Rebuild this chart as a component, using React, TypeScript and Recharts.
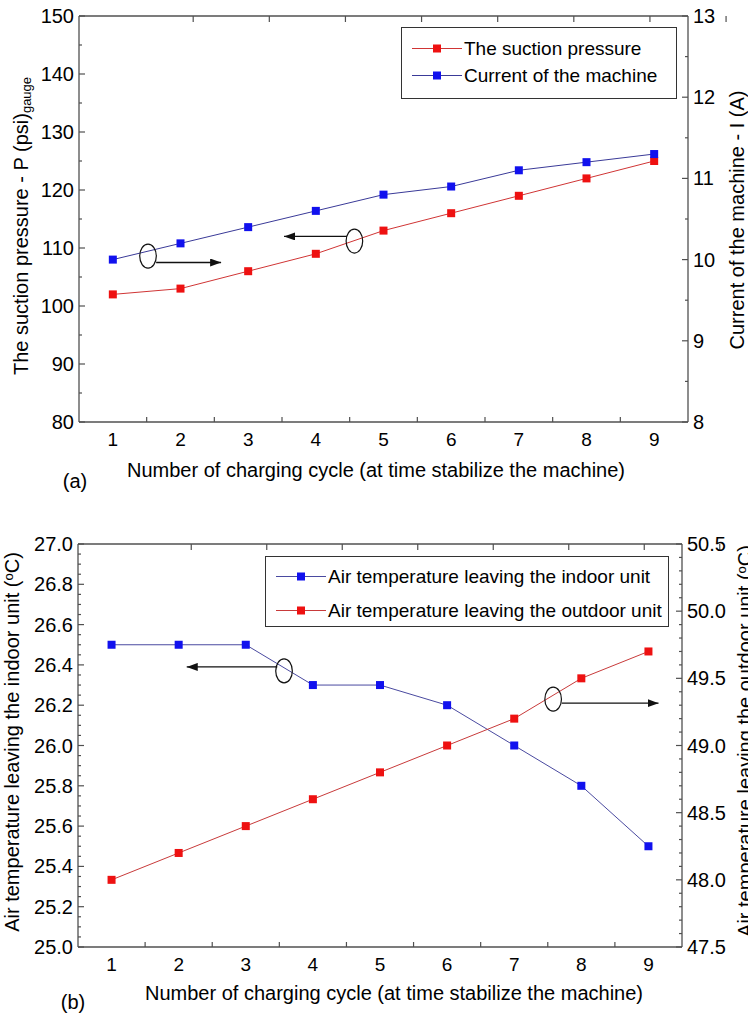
import React from 'react';
import { LineChart, Line, XAxis, YAxis, Legend, ReferenceDot, ReferenceLine } from 'recharts';

// ---------- data ----------
const cycles = [1, 2, 3, 4, 5, 6, 7, 8, 9];
const suctionPressure = [102, 103, 106, 109, 113, 116, 119, 122, 125];
const machineCurrent = [10.0, 10.2, 10.4, 10.6, 10.8, 10.9, 11.1, 11.2, 11.3];
const indoorTemp = [26.5, 26.5, 26.5, 26.3, 26.3, 26.2, 26.0, 25.8, 25.5];
const outdoorTemp = [48.0, 48.2, 48.4, 48.6, 48.8, 49.0, 49.2, 49.5, 49.7];

// ---------- ticks ----------
const xLabelTicks = [1, 2, 3, 4, 5, 6, 7, 8, 9];
const xMinorTicks = [1.5, 2.5, 3.5, 4.5, 5.5, 6.5, 7.5, 8.5];
const pressureTicks = [80, 90, 100, 110, 120, 130, 140, 150];
const currentTicks = [8, 9, 10, 11, 12, 13];
const indoorTicks = [25.0, 25.2, 25.4, 25.6, 25.8, 26.0, 26.2, 26.4, 26.6, 26.8, 27.0];
const outdoorTicks = [47.5, 48.0, 48.5, 49.0, 49.5, 50.0, 50.5];

// annotations (data coordinates)
const ellipsesA = [{ x: 1.52, y: 108.6 }, { x: 4.57, y: 111.2 }];
const arrowsA = [
  { x1: 1.64, y1: 107.5, x2: 2.6, y2: 107.5 },
  { x1: 4.46, y1: 112.0, x2: 3.53, y2: 112.0 },
];
const ellipsesB = [{ x: 3.57, y: 26.37 }, { x: 7.58, y: 26.23 }];
const arrowsB = [
  { x1: 3.47, y1: 26.39, x2: 2.12, y2: 26.39 },
  { x1: 7.71, y1: 26.21, x2: 9.15, y2: 26.21 },
];

const seriesA = [
  { key: 'pressure', name: 'The suction pressure', line: '#d03535', marker: '#ee1111' },
  { key: 'current', name: 'Current of the machine', line: '#3a3a98', marker: '#1111ee' },
];
const seriesB = [
  { key: 'indoor', name: 'Air temperature leaving the indoor unit', line: '#4a4aa0', marker: '#1111ee' },
  { key: 'outdoor', name: 'Air temperature leaving the outdoor unit', line: '#c83a3a', marker: '#ee1111' },
];

const dataA = cycles.map((c, i) => ({ cycle: c, pressure: suctionPressure[i], current: machineCurrent[i] }));
const dataB = cycles.map((c, i) => ({ cycle: c, indoor: indoorTemp[i], outdoor: outdoorTemp[i] }));

const subdivide = (majors: number[], n: number) => {
  const out: number[] = [];
  for (let i = 0; i < majors.length; i++) {
    out.push(majors[i]);
    if (i < majors.length - 1) {
      const step = (majors[i + 1] - majors[i]) / n;
      for (let k = 1; k < n; k++) out.push(+(majors[i] + k * step).toFixed(4));
    }
  }
  return out;
};

const FONT = '"Liberation Sans", Arial, Helvetica, sans-serif';
const AXIS = '#505050';

const isIn = (arr: number[], v: number) => arr.some((m) => Math.abs(m - v) < 1e-6);

const makeLeftTick = (majors: number[], fmt: (v: number) => string) => (props: any) => {
  const { x, y, payload } = props;
  const major = isIn(majors, payload.value);
  return (
    <g>
      <line x1={x} x2={x + (major ? 6 : 3)} y1={y} y2={y} stroke={AXIS} strokeWidth={1.2} />
      {major && (
        <text x={x - 5} y={y} dy="0.35em" textAnchor="end" fontSize={20} fontFamily={FONT} fill="#000">
          {fmt(payload.value)}
        </text>
      )}
    </g>
  );
};

const makeRightTick = (majors: number[], fmt: (v: number) => string) => (props: any) => {
  const { x, y, payload } = props;
  const major = isIn(majors, payload.value);
  return (
    <g>
      <line x1={x} x2={x - (major ? 6 : 3)} y1={y} y2={y} stroke={AXIS} strokeWidth={1.2} />
      {major && (
        <text x={x + 5} y={y} dy="0.35em" textAnchor="start" fontSize={20} fontFamily={FONT} fill="#000">
          {fmt(payload.value)}
        </text>
      )}
    </g>
  );
};

const bottomTick = (props: any) => {
  const { x, y, payload } = props;
  const major = isIn(xLabelTicks, payload.value);
  if (major) {
    return (
      <text x={x} y={y + 17} dy="0.35em" textAnchor="middle" fontSize={19} fontFamily={FONT} fill="#000">
        {payload.value}
      </text>
    );
  }
  return <line x1={x} x2={x} y1={y} y2={y - 5} stroke={AXIS} strokeWidth={1.2} />;
};

const topTick = (props: any) => {
  const { x, y } = props;
  return <line x1={x} x2={x} y1={y} y2={y + 6} stroke={AXIS} strokeWidth={1.2} />;
};

const squareDot = (color: string) => (props: any) => {
  const { cx, cy, index } = props;
  return <rect key={`d${index}`} x={cx - 4} y={cy - 4} width={8} height={8} fill={color} />;
};

const ellipseShape = (props: any) => (
  <ellipse cx={props.cx} cy={props.cy} rx={8.3} ry={12} fill="none" stroke="#111" strokeWidth={1.2} />
);

const arrowShape = (props: any) => (
  <line x1={props.x1} y1={props.y1} x2={props.x2} y2={props.y2} stroke="#111" strokeWidth={1.3} markerEnd="url(#arrowHead)" />
);

const LegendBox = ({ items, rowTops, fontSize }: { items: typeof seriesA; rowTops: number[]; fontSize: number }) => (
  <div
    style={{
      position: 'relative',
      width: '100%',
      height: '100%',
      boxSizing: 'border-box',
      border: '1.5px solid #333',
      background: '#fff',
      fontFamily: FONT,
    }}
  >
    {items.map((s, i) => (
      <div key={s.key} style={{ position: 'absolute', left: 10, top: rowTops[i], transform: 'translateY(-50%)', display: 'flex', alignItems: 'center', whiteSpace: 'nowrap' }}>
        <svg width={50} height={10} style={{ display: 'block' }}>
          <line x1={0} x2={50} y1={5} y2={5} stroke={s.line} strokeWidth={1} />
          <rect x={21} y={1} width={8} height={8} fill={s.marker} />
        </svg>
        <span style={{ fontSize, lineHeight: 1, marginLeft: 2, color: '#000' }}>{s.name}</span>
      </div>
    ))}
  </div>
);

const textStyle: React.CSSProperties = {
  position: 'absolute',
  fontFamily: FONT,
  fontSize: 20,
  lineHeight: 1,
  whiteSpace: 'nowrap',
  color: '#000',
};

const Centered = ({ x, y, rot, children, size }: any) => (
  <div style={{ ...textStyle, fontSize: size ?? 20, left: x, top: y, transform: `translate(-50%, -50%)${rot ? ` rotate(${rot}deg)` : ''}` }}>
    {children}
  </div>
);

const allX = [...xLabelTicks, ...xMinorTicks].sort((a, b) => a - b);

const axisCommon = {
  allowDataOverflow: true,
  interval: 0 as const,
  tickSize: 0,
  tickMargin: 0,
  tickLine: false,
  axisLine: { stroke: AXIS, strokeWidth: 1.3 },
};

export default function App() {
  const pressureAll = subdivide(pressureTicks, 2);
  const currentAll = subdivide(currentTicks, 2);
  const indoorAll = subdivide(indoorTicks, 4);
  const outdoorAll = subdivide(outdoorTicks, 5);

  return (
    <div style={{ position: 'absolute', left: 0, top: 0, width: 748, height: 1014, overflow: 'hidden', background: '#fff' }}>
      <svg width={0} height={0} style={{ position: 'absolute' }}>
        <defs>
          <marker id="arrowHead" markerUnits="userSpaceOnUse" markerWidth={12} markerHeight={8} refX={11} refY={4} orient="auto">
            <path d="M0,0 L11,4 L0,8 z" fill="#111" />
          </marker>
        </defs>
      </svg>

      {/* ---------- chart (a) ---------- */}
      <div style={{ position: 'absolute', left: 0, top: 0 }}>
        <LineChart width={748} height={490} data={dataA} margin={{ top: 15, left: 78, right: 59, bottom: 67 }}>
          <XAxis dataKey="cycle" type="number" domain={[0.5, 9.5]} ticks={allX} height={1} tick={bottomTick} {...axisCommon} />
          <XAxis xAxisId="top" orientation="top" type="number" domain={[0.5, 9.5]} ticks={xMinorTicks} height={1} tick={topTick} {...axisCommon} />
          <YAxis yAxisId="left" type="number" domain={[80, 150]} ticks={pressureAll} width={1} tick={makeLeftTick(pressureTicks, (v) => String(v))} {...axisCommon} />
          <YAxis yAxisId="right" orientation="right" type="number" domain={[8, 13]} ticks={currentAll} width={1} tick={makeRightTick(currentTicks, (v) => String(v))} {...axisCommon} />
          <Line yAxisId="left" dataKey="pressure" name={seriesA[0].name} type="linear" stroke={seriesA[0].line} strokeWidth={1} dot={squareDot(seriesA[0].marker)} activeDot={false} isAnimationActive={false} />
          <Line yAxisId="right" dataKey="current" name={seriesA[1].name} type="linear" stroke={seriesA[1].line} strokeWidth={1} dot={squareDot(seriesA[1].marker)} activeDot={false} isAnimationActive={false} />
          {ellipsesA.map((e, i) => (
            <ReferenceDot key={`ea${i}`} yAxisId="left" x={e.x} y={e.y} r={10} shape={ellipseShape} ifOverflow="visible" />
          ))}
          {arrowsA.map((a, i) => (
            <ReferenceLine key={`aa${i}`} yAxisId="left" segment={[{ x: a.x1, y: a.y1 }, { x: a.x2, y: a.y2 }]} shape={arrowShape} ifOverflow="visible" />
          ))}
          <Legend
            layout="vertical"
            align="center"
            verticalAlign="middle"
            wrapperStyle={{ position: 'absolute', left: 401, top: 27, width: 276, height: 72, margin: 0, padding: 0 }}
            content={() => <LegendBox items={seriesA} rowTops={[20, 47]} fontSize={19} />}
          />
        </LineChart>
      </div>

      <Centered x={22} y={226} rot={-90}>
        The suction pressure - P (psi)<sub style={{ fontSize: 13, verticalAlign: '-0.25em' }}>gauge</sub>
      </Centered>
      <Centered x={737} y={220} rot={-90}>Current of the machine - I (A)</Centered>
      <Centered x={376} y={470}>Number of charging cycle (at time stabilize the machine)</Centered>
      <Centered x={75} y={481}>(a)</Centered>

      {/* ---------- chart (b) ---------- */}
      <div style={{ position: 'absolute', left: 0, top: 500 }}>
        <LineChart width={748} height={514} data={dataB} margin={{ top: 43, left: 77, right: 65, bottom: 66 }}>
          <XAxis dataKey="cycle" type="number" domain={[0.5, 9.5]} ticks={allX} height={1} tick={bottomTick} {...axisCommon} />
          <XAxis xAxisId="top" orientation="top" type="number" domain={[0.5, 9.5]} ticks={xMinorTicks} height={1} tick={topTick} {...axisCommon} />
          <YAxis yAxisId="left" type="number" domain={[25, 27]} ticks={indoorAll} width={1} tick={makeLeftTick(indoorTicks, (v) => v.toFixed(1))} {...axisCommon} />
          <YAxis yAxisId="right" orientation="right" type="number" domain={[47.5, 50.5]} ticks={outdoorAll} width={1} tick={makeRightTick(outdoorTicks, (v) => v.toFixed(1))} {...axisCommon} />
          <Line yAxisId="left" dataKey="indoor" name={seriesB[0].name} type="linear" stroke={seriesB[0].line} strokeWidth={1} dot={squareDot(seriesB[0].marker)} activeDot={false} isAnimationActive={false} />
          <Line yAxisId="right" dataKey="outdoor" name={seriesB[1].name} type="linear" stroke={seriesB[1].line} strokeWidth={1} dot={squareDot(seriesB[1].marker)} activeDot={false} isAnimationActive={false} />
          {ellipsesB.map((e, i) => (
            <ReferenceDot key={`eb${i}`} yAxisId="left" x={e.x} y={e.y} r={10} shape={ellipseShape} ifOverflow="visible" />
          ))}
          {arrowsB.map((a, i) => (
            <ReferenceLine key={`ab${i}`} yAxisId="left" segment={[{ x: a.x1, y: a.y1 }, { x: a.x2, y: a.y2 }]} shape={arrowShape} ifOverflow="visible" />
          ))}
          <Legend
            layout="vertical"
            align="center"
            verticalAlign="middle"
            wrapperStyle={{ position: 'absolute', left: 265, top: 56, width: 404, height: 71, margin: 0, padding: 0 }}
            content={() => <LegendBox items={seriesB} rowTops={[19, 53]} fontSize={19} />}
          />
        </LineChart>
      </div>

      <Centered x={12} y={742} rot={-90}>
        Air temperature leaving the indoor unit (<sup style={{ fontSize: 13, verticalAlign: '0.45em' }}>o</sup>C)
      </Centered>
      <Centered x={745} y={741} rot={-90}>
        Air temperature leaving the outdoor unit (<sup style={{ fontSize: 13, verticalAlign: '0.45em' }}>o</sup>C)
      </Centered>
      <Centered x={394} y={993}>Number of charging cycle (at time stabilize the machine)</Centered>
      <Centered x={73} y={1002}>(b)</Centered>
    </div>
  );
}
